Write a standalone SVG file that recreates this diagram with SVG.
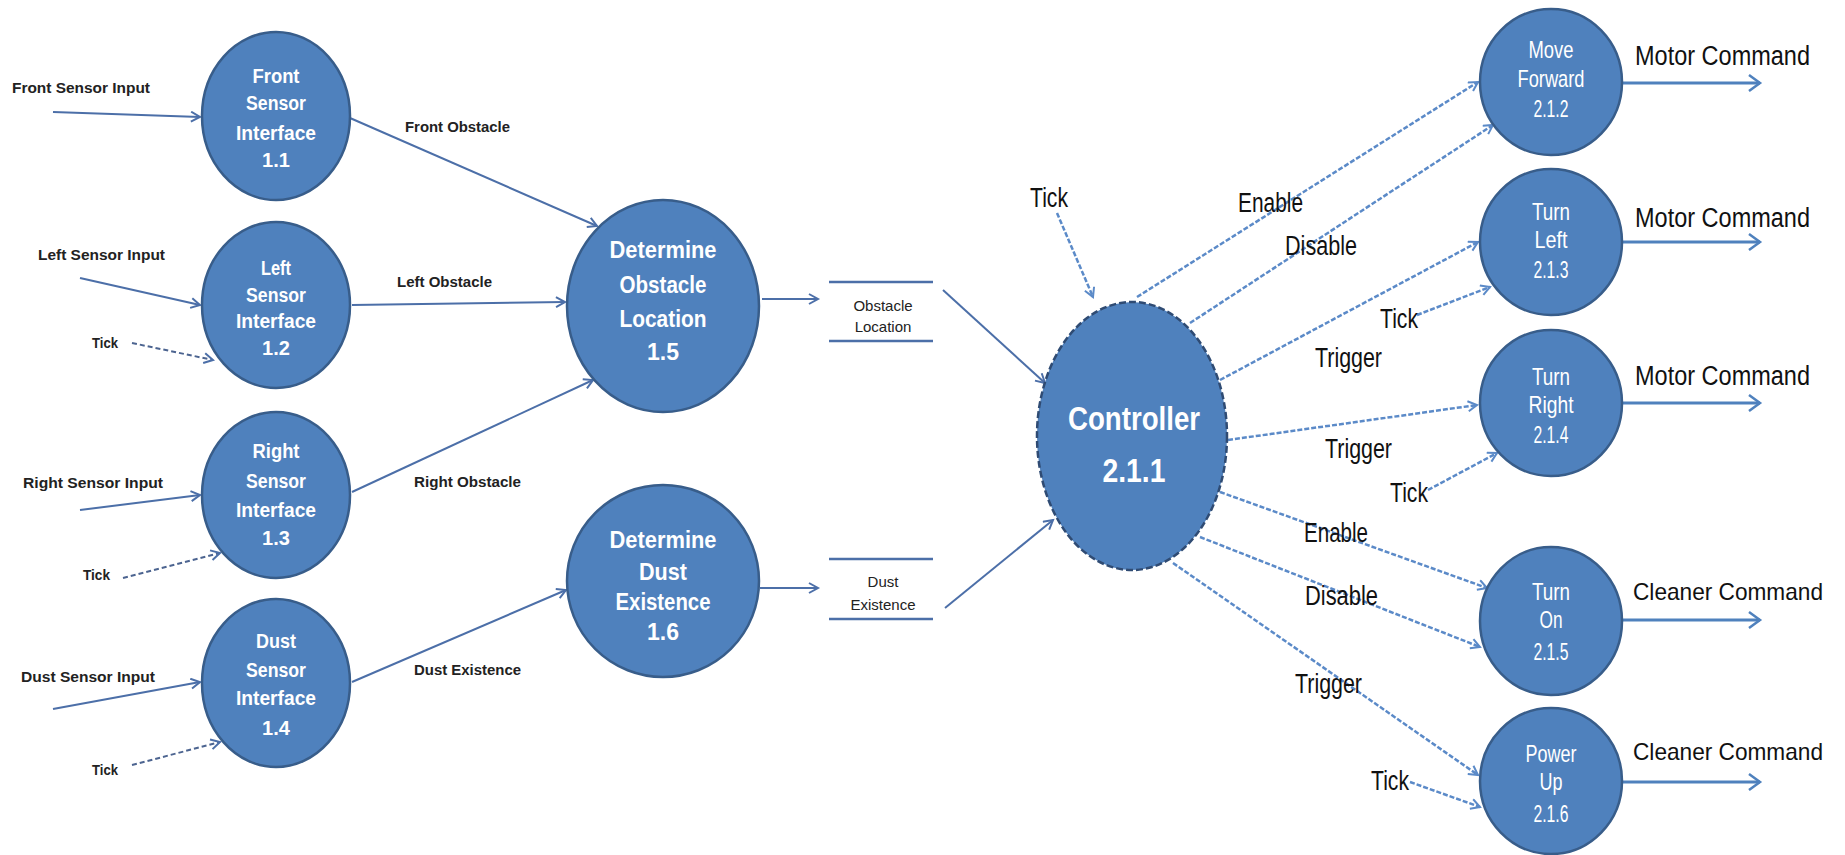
<svg xmlns="http://www.w3.org/2000/svg" width="1845" height="855" viewBox="0 0 1845 855">
  <defs>
    <style>
      .node { fill:#4F81BD; stroke:#385D8A; stroke-width:2.5; }
      .ctrl { fill:#4F81BD; stroke:#2F4B73; stroke-width:2.5; stroke-dasharray:7 3; }
      .nt { font-family:"Liberation Sans", Arial, sans-serif; font-weight:bold; fill:#ffffff; text-anchor:middle; }
      .nt1 { font-size:20px; }
      .nt2 { font-size:23px; }
      .nt3 { font-size:24px; font-weight:normal; }
      .nt4 { font-size:34px; }
      .lbl { font-family:"Liberation Sans", Arial, sans-serif; font-weight:bold; font-size:14.5px; fill:#222222; }
      .sl { font-family:"Liberation Sans", Arial, sans-serif; font-size:15px; fill:#222222; text-anchor:middle; }
      .rl { font-family:"Liberation Sans", Arial, sans-serif; font-size:27px; fill:#111111; }
      .cc { font-size:24px; }
      .flow { stroke:#4C6FA8; stroke-width:2; fill:none; marker-end:url(#ah); }
      .tick { stroke:#4C6490; stroke-width:2; stroke-dasharray:5 3; fill:none; marker-end:url(#ah); }
      .ctl { stroke:#5B8AC8; stroke-width:2.5; stroke-dasharray:5 2; fill:none; marker-end:url(#ahl); }
      .out { stroke:#4F81BD; stroke-width:3; fill:none; marker-end:url(#aho); }
      .store { stroke:#4C6FA8; stroke-width:2.5; }
    </style>
    <marker id="ah" markerUnits="userSpaceOnUse" markerWidth="14" markerHeight="14" refX="10" refY="6" orient="auto">
      <path d="M1,1 L10,6 L1,11" fill="none" stroke="#4C6FA8" stroke-width="2"/>
    </marker>
    <marker id="ahl" markerUnits="userSpaceOnUse" markerWidth="14" markerHeight="14" refX="10" refY="6" orient="auto">
      <path d="M1,1 L10,6 L1,11" fill="none" stroke="#5B8AC8" stroke-width="2"/>
    </marker>
    <marker id="aho" markerUnits="userSpaceOnUse" markerWidth="16" markerHeight="18" refX="12" refY="9" orient="auto">
      <path d="M1,1 L12,9 L1,17" fill="none" stroke="#4F81BD" stroke-width="2.5"/>
    </marker>
  </defs>

  <rect x="0" y="0" width="1845" height="855" fill="#ffffff"/>

  <!-- connectors -->
  <g id="connectors">
    <!-- sensor inputs -->
    <line class="flow" x1="53" y1="112" x2="200" y2="117"/>
    <line class="flow" x1="80" y1="278" x2="200" y2="305"/>
    <line class="flow" x1="80" y1="510" x2="200" y2="495"/>
    <line class="flow" x1="53" y1="709" x2="200" y2="682"/>
    <!-- ticks into sensor interfaces -->
    <line class="tick" x1="132" y1="343" x2="213" y2="360"/>
    <line class="tick" x1="123" y1="578" x2="220" y2="553"/>
    <line class="tick" x1="132" y1="765" x2="220" y2="742"/>
    <!-- sensor interfaces to determine processes -->
    <line class="flow" x1="350" y1="118" x2="597" y2="226"/>
    <line class="flow" x1="352" y1="305" x2="565" y2="302"/>
    <line class="flow" x1="352" y1="492" x2="593" y2="380"/>
    <line class="flow" x1="352" y1="682" x2="566" y2="590"/>
    <!-- into data stores -->
    <line class="flow" x1="762" y1="299" x2="818" y2="299"/>
    <line class="flow" x1="760" y1="588" x2="818" y2="588"/>
    <!-- data stores to controller -->
    <line class="flow" x1="943" y1="290" x2="1045" y2="383"/>
    <line class="flow" x1="945" y1="608" x2="1053" y2="520"/>
    <!-- controller control flows -->
    <line class="ctl" x1="1057" y1="213" x2="1093" y2="297"/>
    <line class="ctl" x1="1137" y1="297" x2="1478" y2="82"/>
    <line class="ctl" x1="1190" y1="323" x2="1493" y2="125"/>
    <line class="ctl" x1="1220" y1="380" x2="1478" y2="242"/>
    <line class="ctl" x1="1417" y1="315" x2="1490" y2="287"/>
    <line class="ctl" x1="1228" y1="440" x2="1477" y2="405"/>
    <line class="ctl" x1="1428" y1="490" x2="1497" y2="453"/>
    <line class="ctl" x1="1220" y1="492" x2="1487" y2="588"/>
    <line class="ctl" x1="1200" y1="537" x2="1480" y2="647"/>
    <line class="ctl" x1="1173" y1="563" x2="1478" y2="775"/>
    <line class="ctl" x1="1410" y1="782" x2="1480" y2="807"/>
    <!-- command outputs -->
    <line class="out" x1="1622" y1="83" x2="1760" y2="83"/>
    <line class="out" x1="1622" y1="242" x2="1760" y2="242"/>
    <line class="out" x1="1622" y1="403" x2="1760" y2="403"/>
    <line class="out" x1="1622" y1="620" x2="1760" y2="620"/>
    <line class="out" x1="1622" y1="782" x2="1760" y2="782"/>

    <!-- flow labels -->
    <text class="lbl" x="12" y="93" textLength="138" lengthAdjust="spacingAndGlyphs">Front Sensor Input</text>
    <text class="lbl" x="38" y="260" textLength="127" lengthAdjust="spacingAndGlyphs">Left Sensor Input</text>
    <text class="lbl" x="23" y="488" textLength="140" lengthAdjust="spacingAndGlyphs">Right Sensor Input</text>
    <text class="lbl" x="21" y="682" textLength="134" lengthAdjust="spacingAndGlyphs">Dust Sensor Input</text>
    <text class="lbl" x="92" y="348" textLength="26" lengthAdjust="spacingAndGlyphs">Tick</text>
    <text class="lbl" x="83" y="580" textLength="27" lengthAdjust="spacingAndGlyphs">Tick</text>
    <text class="lbl" x="92" y="775" textLength="26" lengthAdjust="spacingAndGlyphs">Tick</text>
    <text class="lbl" x="405" y="132" textLength="105" lengthAdjust="spacingAndGlyphs">Front Obstacle</text>
    <text class="lbl" x="397" y="287" textLength="95" lengthAdjust="spacingAndGlyphs">Left Obstacle</text>
    <text class="lbl" x="414" y="487" textLength="107" lengthAdjust="spacingAndGlyphs">Right Obstacle</text>
    <text class="lbl" x="414" y="675" textLength="107" lengthAdjust="spacingAndGlyphs">Dust Existence</text>

    <text class="rl" x="1030" y="207" textLength="38" lengthAdjust="spacingAndGlyphs">Tick</text>
    <text class="rl" x="1238" y="212" textLength="65" lengthAdjust="spacingAndGlyphs">Enable</text>
    <text class="rl" x="1285" y="255" textLength="72" lengthAdjust="spacingAndGlyphs">Disable</text>
    <text class="rl" x="1380" y="328" textLength="38" lengthAdjust="spacingAndGlyphs">Tick</text>
    <text class="rl" x="1315" y="367" textLength="67" lengthAdjust="spacingAndGlyphs">Trigger</text>
    <text class="rl" x="1325" y="458" textLength="67" lengthAdjust="spacingAndGlyphs">Trigger</text>
    <text class="rl" x="1390" y="502" textLength="38" lengthAdjust="spacingAndGlyphs">Tick</text>
    <text class="rl" x="1304" y="542" textLength="64" lengthAdjust="spacingAndGlyphs">Enable</text>
    <text class="rl" x="1305" y="605" textLength="73" lengthAdjust="spacingAndGlyphs">Disable</text>
    <text class="rl" x="1295" y="693" textLength="67" lengthAdjust="spacingAndGlyphs">Trigger</text>
    <text class="rl" x="1371" y="790" textLength="38" lengthAdjust="spacingAndGlyphs">Tick</text>
    <text class="rl" x="1635" y="65" textLength="175" lengthAdjust="spacingAndGlyphs">Motor Command</text>
    <text class="rl" x="1635" y="227" textLength="175" lengthAdjust="spacingAndGlyphs">Motor Command</text>
    <text class="rl" x="1635" y="385" textLength="175" lengthAdjust="spacingAndGlyphs">Motor Command</text>
    <text class="rl cc" x="1633" y="600" textLength="190" lengthAdjust="spacingAndGlyphs">Cleaner Command</text>
    <text class="rl cc" x="1633" y="760" textLength="190" lengthAdjust="spacingAndGlyphs">Cleaner Command</text>
  </g>

  <!-- sensor interface processes -->
  <g id="p1_1">
    <ellipse class="node" cx="276" cy="116" rx="74" ry="84"/>
    <text class="nt nt1" x="276" y="83" textLength="47" lengthAdjust="spacingAndGlyphs">Front</text>
    <text class="nt nt1" x="276" y="110" textLength="60" lengthAdjust="spacingAndGlyphs">Sensor</text>
    <text class="nt nt1" x="276" y="140" textLength="80" lengthAdjust="spacingAndGlyphs">Interface</text>
    <text class="nt nt1" x="276" y="167">1.1</text>
  </g>
  <g id="p1_2">
    <ellipse class="node" cx="276" cy="305" rx="74" ry="83"/>
    <text class="nt nt1" x="276" y="275" textLength="30" lengthAdjust="spacingAndGlyphs">Left</text>
    <text class="nt nt1" x="276" y="302" textLength="60" lengthAdjust="spacingAndGlyphs">Sensor</text>
    <text class="nt nt1" x="276" y="328" textLength="80" lengthAdjust="spacingAndGlyphs">Interface</text>
    <text class="nt nt1" x="276" y="355">1.2</text>
  </g>
  <g id="p1_3">
    <ellipse class="node" cx="276" cy="495" rx="74" ry="83"/>
    <text class="nt nt1" x="276" y="458" textLength="47" lengthAdjust="spacingAndGlyphs">Right</text>
    <text class="nt nt1" x="276" y="488" textLength="60" lengthAdjust="spacingAndGlyphs">Sensor</text>
    <text class="nt nt1" x="276" y="517" textLength="80" lengthAdjust="spacingAndGlyphs">Interface</text>
    <text class="nt nt1" x="276" y="545">1.3</text>
  </g>
  <g id="p1_4">
    <ellipse class="node" cx="276" cy="683" rx="74" ry="84"/>
    <text class="nt nt1" x="276" y="648" textLength="40" lengthAdjust="spacingAndGlyphs">Dust</text>
    <text class="nt nt1" x="276" y="677" textLength="60" lengthAdjust="spacingAndGlyphs">Sensor</text>
    <text class="nt nt1" x="276" y="705" textLength="80" lengthAdjust="spacingAndGlyphs">Interface</text>
    <text class="nt nt1" x="276" y="735">1.4</text>
  </g>

  <!-- determine processes -->
  <g id="p1_5">
    <ellipse class="node" cx="663" cy="306" rx="96" ry="106"/>
    <text class="nt nt2" x="663" y="258" textLength="107" lengthAdjust="spacingAndGlyphs">Determine</text>
    <text class="nt nt2" x="663" y="293" textLength="87" lengthAdjust="spacingAndGlyphs">Obstacle</text>
    <text class="nt nt2" x="663" y="327" textLength="87" lengthAdjust="spacingAndGlyphs">Location</text>
    <text class="nt nt2" x="663" y="360">1.5</text>
  </g>
  <g id="p1_6">
    <ellipse class="node" cx="663" cy="581" rx="96" ry="96"/>
    <text class="nt nt2" x="663" y="548" textLength="107" lengthAdjust="spacingAndGlyphs">Determine</text>
    <text class="nt nt2" x="663" y="580" textLength="48" lengthAdjust="spacingAndGlyphs">Dust</text>
    <text class="nt nt2" x="663" y="610" textLength="95" lengthAdjust="spacingAndGlyphs">Existence</text>
    <text class="nt nt2" x="663" y="640">1.6</text>
  </g>

  <!-- data stores -->
  <g id="store_obstacle">
    <line class="store" x1="829" y1="282" x2="933" y2="282"/>
    <line class="store" x1="829" y1="341" x2="933" y2="341"/>
    <text class="sl" x="883" y="311">Obstacle</text>
    <text class="sl" x="883" y="332">Location</text>
  </g>
  <g id="store_dust">
    <line class="store" x1="829" y1="559" x2="933" y2="559"/>
    <line class="store" x1="829" y1="619" x2="933" y2="619"/>
    <text class="sl" x="883" y="587">Dust</text>
    <text class="sl" x="883" y="610">Existence</text>
  </g>

  <!-- controller -->
  <g id="p2_1_1">
    <ellipse class="ctrl" cx="1132" cy="436" rx="95" ry="134"/>
    <text class="nt nt4" x="1134" y="430" textLength="132" lengthAdjust="spacingAndGlyphs">Controller</text>
    <text class="nt nt4" x="1134" y="482" textLength="63" lengthAdjust="spacingAndGlyphs">2.1.1</text>
  </g>

  <!-- actions -->
  <g id="p2_1_2">
    <ellipse class="node" cx="1551" cy="82" rx="71" ry="73"/>
    <text class="nt nt3" x="1551" y="58" textLength="45" lengthAdjust="spacingAndGlyphs">Move</text>
    <text class="nt nt3" x="1551" y="87" textLength="67" lengthAdjust="spacingAndGlyphs">Forward</text>
    <text class="nt nt3" x="1551" y="117" textLength="35" lengthAdjust="spacingAndGlyphs">2.1.2</text>
  </g>
  <g id="p2_1_3">
    <ellipse class="node" cx="1551" cy="242" rx="71" ry="73"/>
    <text class="nt nt3" x="1551" y="220" textLength="38" lengthAdjust="spacingAndGlyphs">Turn</text>
    <text class="nt nt3" x="1551" y="248" textLength="33" lengthAdjust="spacingAndGlyphs">Left</text>
    <text class="nt nt3" x="1551" y="278" textLength="35" lengthAdjust="spacingAndGlyphs">2.1.3</text>
  </g>
  <g id="p2_1_4">
    <ellipse class="node" cx="1551" cy="403" rx="71" ry="73"/>
    <text class="nt nt3" x="1551" y="385" textLength="38" lengthAdjust="spacingAndGlyphs">Turn</text>
    <text class="nt nt3" x="1551" y="413" textLength="45" lengthAdjust="spacingAndGlyphs">Right</text>
    <text class="nt nt3" x="1551" y="443" textLength="35" lengthAdjust="spacingAndGlyphs">2.1.4</text>
  </g>
  <g id="p2_1_5">
    <ellipse class="node" cx="1551" cy="621" rx="71" ry="74"/>
    <text class="nt nt3" x="1551" y="600" textLength="38" lengthAdjust="spacingAndGlyphs">Turn</text>
    <text class="nt nt3" x="1551" y="628" textLength="23" lengthAdjust="spacingAndGlyphs">On</text>
    <text class="nt nt3" x="1551" y="660" textLength="35" lengthAdjust="spacingAndGlyphs">2.1.5</text>
  </g>
  <g id="p2_1_6">
    <ellipse class="node" cx="1551" cy="781" rx="71" ry="73"/>
    <text class="nt nt3" x="1551" y="762" textLength="51" lengthAdjust="spacingAndGlyphs">Power</text>
    <text class="nt nt3" x="1551" y="790" textLength="23" lengthAdjust="spacingAndGlyphs">Up</text>
    <text class="nt nt3" x="1551" y="822" textLength="35" lengthAdjust="spacingAndGlyphs">2.1.6</text>
  </g>
</svg>
